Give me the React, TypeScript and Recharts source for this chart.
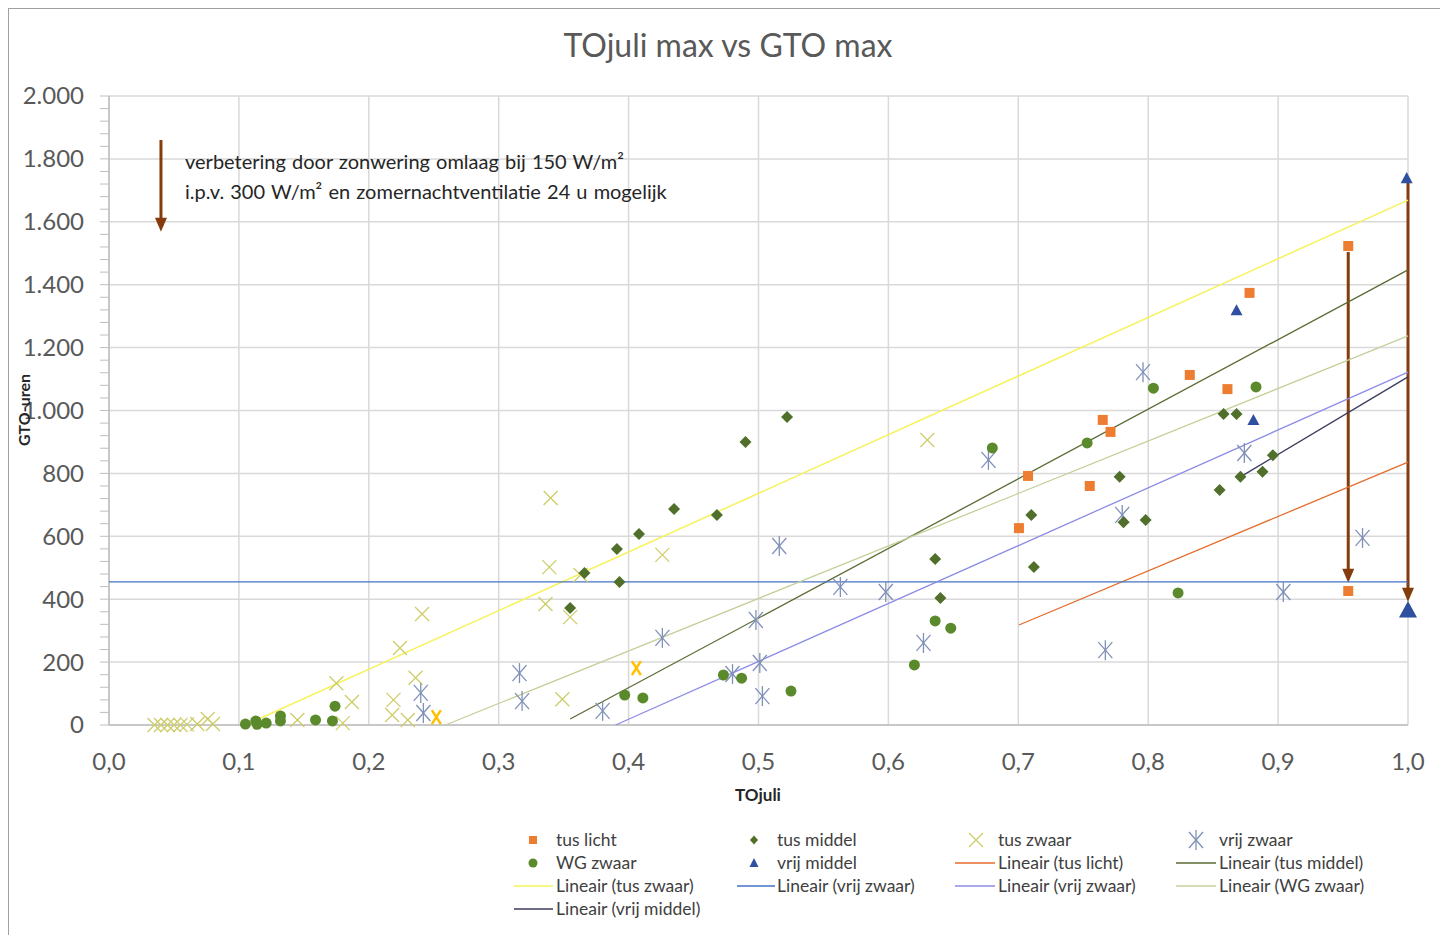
import { ScatterChart, Scatter, XAxis, YAxis, CartesianGrid, ReferenceLine } from 'recharts';

const FONT = 'Lato, "Open Sans", sans-serif';

// TOjuli (x) vs GTO-uren (y)
const tusLicht = [
  { x: 0.7005, y: 626 }, { x: 0.7075, y: 792 }, { x: 0.755, y: 760 }, { x: 0.765, y: 970 },
  { x: 0.771, y: 932 }, { x: 0.832, y: 1113 }, { x: 0.861, y: 1068 }, { x: 0.878, y: 1374 },
  { x: 0.954, y: 1523 }, { x: 0.954, y: 426 },
];

const tusMiddel = [
  { x: 0.355, y: 372 }, { x: 0.366, y: 483 }, { x: 0.391, y: 560 }, { x: 0.393, y: 455 },
  { x: 0.408, y: 607 }, { x: 0.435, y: 687 }, { x: 0.468, y: 668 }, { x: 0.49, y: 900 },
  { x: 0.522, y: 979 }, { x: 0.636, y: 528 }, { x: 0.64, y: 404 }, { x: 0.71, y: 668 },
  { x: 0.712, y: 502 }, { x: 0.778, y: 789 }, { x: 0.781, y: 645 }, { x: 0.798, y: 652 },
  { x: 0.855, y: 747 }, { x: 0.858, y: 989 }, { x: 0.868, y: 989 }, { x: 0.871, y: 789 },
  { x: 0.888, y: 805 }, { x: 0.896, y: 858 },
];

const tusZwaar = [
  { x: 0.035, y: 0 }, { x: 0.04, y: 0 }, { x: 0.045, y: 0 }, { x: 0.05, y: 0 },
  { x: 0.055, y: 0 }, { x: 0.06, y: 2 }, { x: 0.068, y: 3 }, { x: 0.076, y: 19 },
  { x: 0.08, y: 3 }, { x: 0.145, y: 16 }, { x: 0.175, y: 133 }, { x: 0.18, y: 6 },
  { x: 0.187, y: 73 }, { x: 0.218, y: 32 }, { x: 0.219, y: 80 }, { x: 0.224, y: 245 },
  { x: 0.23, y: 16 }, { x: 0.236, y: 150 }, { x: 0.241, y: 353 }, { x: 0.336, y: 385 },
  { x: 0.339, y: 502 }, { x: 0.34, y: 722 }, { x: 0.349, y: 82 }, { x: 0.355, y: 343 },
  { x: 0.363, y: 477 }, { x: 0.426, y: 541 }, { x: 0.63, y: 906 },
];

const tusZwaarHighlight = [{ x: 0.252, y: 25 }, { x: 0.406, y: 181 }];

const vrijZwaar = [
  { x: 0.24, y: 102 }, { x: 0.242, y: 38 }, { x: 0.316, y: 165 }, { x: 0.318, y: 76 },
  { x: 0.38, y: 45 }, { x: 0.426, y: 277 }, { x: 0.48, y: 162 }, { x: 0.498, y: 334 },
  { x: 0.501, y: 197 }, { x: 0.503, y: 92 }, { x: 0.516, y: 569 }, { x: 0.563, y: 439 },
  { x: 0.598, y: 423 }, { x: 0.627, y: 261 }, { x: 0.677, y: 843 }, { x: 0.767, y: 238 },
  { x: 0.78, y: 668 }, { x: 0.796, y: 1122 }, { x: 0.874, y: 865 }, { x: 0.904, y: 423 },
  { x: 0.965, y: 595 },
];

const wgZwaar = [
  { x: 0.105, y: 3 }, { x: 0.113, y: 13 }, { x: 0.114, y: 2 }, { x: 0.121, y: 6 },
  { x: 0.132, y: 13 }, { x: 0.132, y: 29 }, { x: 0.159, y: 16 }, { x: 0.172, y: 13 },
  { x: 0.174, y: 60 }, { x: 0.397, y: 95 }, { x: 0.411, y: 86 }, { x: 0.473, y: 159 },
  { x: 0.487, y: 149 }, { x: 0.525, y: 108 }, { x: 0.62, y: 191 }, { x: 0.636, y: 331 },
  { x: 0.648, y: 308 }, { x: 0.68, y: 881 }, { x: 0.753, y: 897 }, { x: 0.804, y: 1071 },
  { x: 0.823, y: 420 }, { x: 0.883, y: 1075 },
];

const vrijMiddel = [{ x: 0.868, y: 1319 }, { x: 0.881, y: 970 }, { x: 0.999, y: 1739 }];
const vrijMiddelBig = [{ x: 1.0, y: 366 }];

// trendline end points
const trendTusLicht = [{ x: 0.7005, y: 318 }, { x: 1.0, y: 836 }];
const trendTusMiddel = [{ x: 0.355, y: 19 }, { x: 1.0, y: 1447 }];
const trendTusZwaar = [{ x: 0.105, y: 0 }, { x: 1.0, y: 1669 }];
const trendVrijZwaar = [{ x: 0.0, y: 455 }, { x: 1.0, y: 455 }];
const trendVrijZwaar2 = [{ x: 0.39, y: 0 }, { x: 1.0, y: 1122 }];
const trendWgZwaar = [{ x: 0.259, y: 0 }, { x: 1.0, y: 1237 }];
const trendVrijMiddel = [{ x: 0.871, y: 789 }, { x: 1.0, y: 1107 }];

// arrows (x, from, to)
const arrows = [
  { x: 0.04, from: 1860, to: 1568 },
  { x: 0.954, from: 1504, to: 452 },
  { x: 1.0, from: 1739, to: 392 },
];

const xTicks = [0, 0.1, 0.2, 0.3, 0.4, 0.5, 0.6, 0.7, 0.8, 0.9, 1.0];
const yMajor = [0, 200, 400, 600, 800, 1000, 1200, 1400, 1600, 1800, 2000];
const yMinor = Array.from({ length: 51 }, (_, i) => i * 40);

const C = {
  licht: '#ED7D31',
  middel: '#4F6F2A',
  zwaar: '#CDCD6A',
  gold: '#FFC000',
  vrijZwaar: '#8090B8',
  wg: '#5A8A2B',
  vrijMiddel: '#2F4FA0',
  arrow: '#843C0C',
  tLicht: '#E46C2A',
  tMiddel: '#5A6B34',
  tZwaar: '#F7F25A',
  tVrij: '#4472C4',
  tVrij2: '#8C8CE8',
  tWg: '#C4D09A',
  tVrijMiddel: '#3B3B5E',
};

const Square = ({ cx, cy }: any) => <rect x={cx - 5} y={cy - 5} width={10} height={10} fill={C.licht} />;
const Diamond = ({ cx, cy }: any) => (
  <polygon points={`${cx},${cy - 6} ${cx + 6},${cy} ${cx},${cy + 6} ${cx - 6},${cy}`} fill={C.middel} />
);
const Dot = ({ cx, cy }: any) => <circle cx={cx} cy={cy} r={5.5} fill={C.wg} />;
const Tri = ({ cx, cy, s = 6 }: any) => (
  <polygon points={`${cx},${cy - s} ${cx + s},${cy + s * 0.85} ${cx - s},${cy + s * 0.85}`} fill={C.vrijMiddel} />
);
const BigTri = (p: any) => <Tri {...p} s={9} />;
const XMark = ({ cx, cy }: any) => (
  <g stroke={C.zwaar} strokeWidth={1.3}>
    <line x1={cx - 7} y1={cy - 7} x2={cx + 7} y2={cy + 7} />
    <line x1={cx + 7} y1={cy - 7} x2={cx - 7} y2={cy + 7} />
  </g>
);
const GoldX = ({ cx, cy }: any) => (
  <g stroke={C.gold} strokeWidth={2.5}>
    <line x1={cx - 4.5} y1={cy - 7} x2={cx + 4.5} y2={cy + 7} />
    <line x1={cx + 4.5} y1={cy - 7} x2={cx - 4.5} y2={cy + 7} />
  </g>
);
const Asterisk = ({ cx, cy }: any) => (
  <g stroke={C.vrijZwaar} strokeWidth={1.3}>
    <line x1={cx - 7} y1={cy - 8} x2={cx + 7} y2={cy + 8} />
    <line x1={cx + 7} y1={cy - 8} x2={cx - 7} y2={cy + 8} />
    <line x1={cx} y1={cy - 10} x2={cx} y2={cy + 10} />
  </g>
);
const NoShape = () => <g />;

const arrowShape = (props: any) => {
  const { x1, y1, x2, y2 } = props;
  const top = Math.min(y1, y2);
  const tip = Math.max(y1, y2);
  return (
    <g>
      <line x1={x1} y1={top} x2={x2} y2={tip - 12} stroke={C.arrow} strokeWidth={3} />
      <polygon points={`${x2 - 6},${tip - 14} ${x2 + 6},${tip - 14} ${x2},${tip}`} fill={C.arrow} />
    </g>
  );
};

const fmtY = (v: number) => (v >= 1000 ? `${Math.floor(v / 1000)}.${String(v % 1000).padStart(3, '0')}` : String(v));
const fmtX = (v: number) => v.toFixed(1).replace('.', ',');

const YTick = ({ x, y, payload }: any) =>
  payload.value % 200 === 0 ? (
    <text x={x} y={y} dy="0.35em" textAnchor="end" fontSize={24} fill="#595959" fontFamily={FONT}>
      {fmtY(payload.value)}
    </text>
  ) : (
    <g />
  );

const legendRows: any[][] = [
  [
    { kind: 'square', label: 'tus licht' },
    { kind: 'diamond', label: 'tus middel' },
    { kind: 'x', label: 'tus zwaar' },
    { kind: 'ast', label: 'vrij zwaar' },
  ],
  [
    { kind: 'dot', label: 'WG zwaar' },
    { kind: 'tri', label: 'vrij middel' },
    { kind: 'line', color: C.tLicht, label: 'Lineair (tus licht)' },
    { kind: 'line', color: C.tMiddel, label: 'Lineair (tus middel)' },
  ],
  [
    { kind: 'line', color: C.tZwaar, label: 'Lineair (tus zwaar)' },
    { kind: 'line', color: C.tVrij, label: 'Lineair (vrij zwaar)' },
    { kind: 'line', color: C.tVrij2, label: 'Lineair (vrij zwaar)' },
    { kind: 'line', color: C.tWg, label: 'Lineair (WG zwaar)' },
  ],
  [{ kind: 'line', color: C.tVrijMiddel, label: 'Lineair (vrij middel)' }],
];

const colMarker = [524, 745, 967, 1187];
const colText = [547, 768, 989, 1210];
const colLine = [[505, 544], [728, 766], [946, 986], [1167, 1207]];
const rowY = [831, 854, 877, 900];

function LegendBox() {
  return (
    <svg width={1432} height={926} style={{ position: 'absolute', left: 0, top: 0, pointerEvents: 'none' }}>
      {legendRows.map((row, r) =>
        row.map((e, c) => {
          const cx = colMarker[c];
          const cy = rowY[r];
          let mark = null;
          if (e.kind === 'square') mark = <rect x={cx - 4} y={cy - 4} width={8} height={8} fill={C.licht} />;
          if (e.kind === 'diamond') mark = <polygon points={`${cx},${cy - 4.5} ${cx + 4},${cy} ${cx},${cy + 4.5} ${cx - 4},${cy}`} fill={C.middel} />;
          if (e.kind === 'dot') mark = <circle cx={cx} cy={cy} r={4.5} fill={C.wg} />;
          if (e.kind === 'tri') mark = <polygon points={`${cx},${cy - 5} ${cx + 4.5},${cy + 4} ${cx - 4.5},${cy + 4}`} fill={C.vrijMiddel} />;
          if (e.kind === 'x') mark = <XMark cx={cx} cy={cy} />;
          if (e.kind === 'ast') mark = <Asterisk cx={cx} cy={cy} />;
          if (e.kind === 'line')
            mark = <line x1={colLine[c][0]} y1={cy} x2={colLine[c][1]} y2={cy} stroke={e.color} strokeWidth={1.5} />;
          return (
            <g key={`${r}-${c}`}>
              {mark}
              <text x={colText[c]} y={cy} dy="0.35em" fontSize={17.5} fill="#404040" fontFamily={FONT}>
                {e.label}
              </text>
            </g>
          );
        })
      )}
    </svg>
  );
}

export default function App() {
  return (
    <div
      style={{
        position: 'relative',
        width: 1432,
        height: 926,
        borderTop: '1px solid #a0a0a0',
        borderLeft: '1px solid #a0a0a0',
        background: '#fff',
        fontFamily: FONT,
      }}
    >
      <ScatterChart width={1432} height={926} margin={{ top: 87, right: 33, left: 0, bottom: 160 }}>
        <CartesianGrid stroke="#d9d9d9" strokeWidth={1.5} horizontalValues={yMajor} verticalValues={xTicks} />
        <XAxis
          type="number"
          dataKey="x"
          domain={[0, 1]}
          ticks={xTicks}
          interval={0}
          tickFormatter={fmtX}
          tickLine={false}
          axisLine={{ stroke: '#bfbfbf', strokeWidth: 1.5 }}
          tick={{ fontSize: 24, fill: '#595959', fontFamily: FONT }}
          tickMargin={22}
          height={50}
        />
        <YAxis
          type="number"
          dataKey="y"
          domain={[0, 2000]}
          ticks={yMinor}
          interval={0}
          width={100}
          tick={<YTick />}
          tickSize={9}
          tickMargin={16}
          tickLine={{ stroke: '#bfbfbf' }}
          axisLine={{ stroke: '#bfbfbf', strokeWidth: 1.5 }}
        />

        <Scatter data={trendTusLicht} line={{ stroke: C.tLicht, strokeWidth: 1.3 }} shape={NoShape} legendType="none" isAnimationActive={false} />
        <Scatter data={trendTusMiddel} line={{ stroke: C.tMiddel, strokeWidth: 1.3 }} shape={NoShape} legendType="none" isAnimationActive={false} />
        <Scatter data={trendTusZwaar} line={{ stroke: C.tZwaar, strokeWidth: 1.5 }} shape={NoShape} legendType="none" isAnimationActive={false} />
        <Scatter data={trendVrijZwaar} line={{ stroke: C.tVrij, strokeWidth: 1.3 }} shape={NoShape} legendType="none" isAnimationActive={false} />
        <Scatter data={trendVrijZwaar2} line={{ stroke: C.tVrij2, strokeWidth: 1.3 }} shape={NoShape} legendType="none" isAnimationActive={false} />
        <Scatter data={trendWgZwaar} line={{ stroke: C.tWg, strokeWidth: 1.3 }} shape={NoShape} legendType="none" isAnimationActive={false} />
        <Scatter data={trendVrijMiddel} line={{ stroke: C.tVrijMiddel, strokeWidth: 1.3 }} shape={NoShape} legendType="none" isAnimationActive={false} />

        <Scatter name="tus zwaar" data={tusZwaar} shape={XMark} isAnimationActive={false} />
        <Scatter name="tus zwaar" data={tusZwaarHighlight} shape={GoldX} legendType="none" isAnimationActive={false} />
        <Scatter name="vrij zwaar" data={vrijZwaar} shape={Asterisk} isAnimationActive={false} />
        <Scatter name="WG zwaar" data={wgZwaar} shape={Dot} isAnimationActive={false} />
        <Scatter name="tus middel" data={tusMiddel} shape={Diamond} isAnimationActive={false} />
        <Scatter name="tus licht" data={tusLicht} shape={Square} isAnimationActive={false} />
        <Scatter name="vrij middel" data={vrijMiddel} shape={Tri} isAnimationActive={false} />
        <Scatter name="vrij middel" data={vrijMiddelBig} shape={BigTri} legendType="none" isAnimationActive={false} />

        {arrows.map((a, i) => (
          <ReferenceLine
            key={i}
            segment={[{ x: a.x, y: a.from }, { x: a.x, y: a.to }]}
            shape={arrowShape}
            ifOverflow="visible"
          />
        ))}
      </ScatterChart>

      <div style={{ position: 'absolute', left: 0, width: 1438, top: 16, textAlign: 'center', fontSize: 32, color: '#595959' }}>
        TOjuli max vs GTO max
      </div>
      <div style={{ position: 'absolute', left: 176, top: 137, fontSize: 20, wordSpacing: 1, color: '#262626', lineHeight: '30px', whiteSpace: 'nowrap' }}>
        <div>verbetering door zonwering omlaag bij 150 W/m²</div>
        <div>i.p.v. 300 W/m² en zomernachtventilatie 24 u mogelijk</div>
      </div>
      <div style={{ position: 'absolute', left: 699, width: 100, top: 775, textAlign: 'center', fontSize: 17, fontWeight: 700, color: '#262626' }}>
        TOjuli
      </div>
      <div
        style={{
          position: 'absolute',
          left: 14,
          top: 401,
          fontSize: 16,
          fontWeight: 700,
          color: '#262626',
          whiteSpace: 'nowrap',
          transform: 'translate(-50%, -50%) rotate(-90deg)',
        }}
      >
        GTO-uren
      </div>
      <LegendBox />
    </div>
  );
}
